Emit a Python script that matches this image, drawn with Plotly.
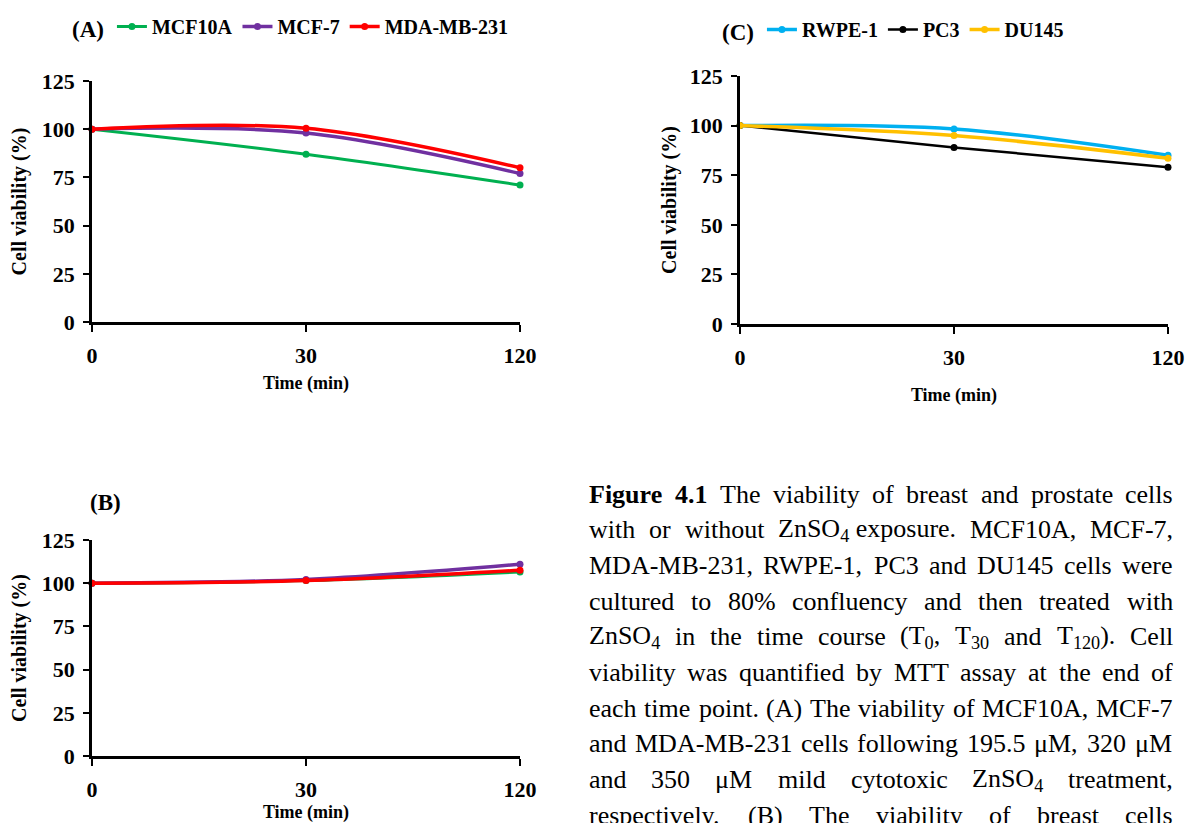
import plotly.graph_objects as go

# ---------------- data ----------------
time_labels = ["0", "30", "120"]
time_pos = [0, 1, 2]

breast_names = ["MCF10A", "MCF-7", "MDA-MB-231"]
breast_colors = ["#00B050", "#7030A0", "#FF0000"]
a_mcf10a = [100, 87, 71]
a_mcf7 = [100, 98, 77]
a_mda = [100, 100.5, 80]

b_mcf10a = [100, 101.5, 106.5]
b_mcf7 = [100, 102.2, 111]
b_mda = [100, 101.5, 107.5]

prostate_names = ["RWPE-1", "PC3", "DU145"]
prostate_colors = ["#00B0F0", "#000000", "#FFC000"]
c_rwpe = [100, 98.3, 85]
c_pc3 = [100, 89, 79]
c_du145 = [100, 95, 83.5]

yticks = [0, 25, 50, 75, 100, 125]

caption_lines = [
    [("Figure", 1), ("4.1", 1), "The", "viability", "of", "breast", "and", "prostate", "cells"],
    ["with", "or", "without", ("ZnSO|4| exposure.", 0), "MCF10A,", "MCF-7,"],
    ["MDA-MB-231,", "RWPE-1,", "PC3", "and", "DU145", "cells", "were"],
    ["cultured", "to", "80%", "confluency", "and", "then", "treated", "with"],
    ["ZnSO|4|", "in", "the", "time", "course", "(T|0|,", "T|30|", "and", "T|120|).", "Cell"],
    ["viability", "was", "quantified", "by", "MTT", "assay", "at", "the", "end", "of"],
    ["each", "time", "point.", "(A)", "The", "viability", "of", "MCF10A,", "MCF-7"],
    ["and", "MDA-MB-231", "cells", "following", "195.5", "μM,", "320", "μM"],
    ["and", "350", "μM", "mild", "cytotoxic", "ZnSO|4|", "treatment,"],
    ["respectively.", "(B)", "The", "viability", "of", "breast", "cells"],
]

W, H = 1188, 823
FONT = "Liberation Serif"

fig = go.Figure()

def add_series(xa, ya, names, colors, series, legend, show):
    for nm, col, vals in zip(names, colors, series):
        lw = 2.5 if col == "#000000" else (3 if col == "#00B050" else 3.5)
        fig.add_trace(go.Scatter(
            x=time_pos, y=vals, name=nm, mode="lines+markers",
            line=dict(color=col, width=lw, shape="spline", smoothing=1),
            marker=dict(color=col, size=7),
            xaxis=xa, yaxis=ya, legend=legend, showlegend=show,
            cliponaxis=False,
        ))

add_series("x", "y", breast_names, breast_colors, [a_mcf10a, a_mcf7, a_mda], "legend", True)
add_series("x2", "y2", prostate_names, prostate_colors, [c_rwpe, c_pc3, c_du145], "legend2", True)
add_series("x3", "y3", breast_names, breast_colors, [b_mcf10a, b_mcf7, b_mda], "legend", False)

def px_x(p):
    return p / W

def px_y(p):
    return 1 - p / H

tickfont = dict(family=FONT, size=22, color="black", weight="bold")
titlefont = dict(family=FONT, size=18, color="black", weight="bold")

def xaxis_cfg(x0, x1, anchor, standoff):
    return dict(
        domain=[px_x(x0), px_x(x1)], anchor=anchor, range=[0, 2], automargin=False,
        tickmode="array", tickvals=time_pos, ticktext=time_labels,
        showline=True, linecolor="black", linewidth=2.5, ticks="outside",
        ticklen=7, tickwidth=2, tickcolor="black", showgrid=False, zeroline=False,
        tickfont=tickfont, ticklabelstandoff=5,
        title=dict(text="Time (min)", font=titlefont, standoff=standoff),
    )

def yaxis_cfg(y0, y1, anchor, standoff):
    return dict(
        domain=[px_y(y0), px_y(y1)], anchor=anchor, range=[0, 125], automargin=False,
        tickmode="array", tickvals=yticks,
        showline=True, linecolor="black", linewidth=2.5, ticks="outside",
        ticklen=6, tickwidth=2, tickcolor="black", showgrid=False, zeroline=False,
        tickfont=tickfont, ticklabelstandoff=4,
        title=dict(text="Cell viability (%)", font=dict(family=FONT, size=20, color="black", weight="bold"), standoff=standoff),
    )

legfont = dict(family=FONT, size=20, color="black", weight="bold")

fig.update_layout(
    width=W, height=H,
    margin=dict(l=0, r=0, t=0, b=0),
    paper_bgcolor="white", plot_bgcolor="white",
    xaxis=xaxis_cfg(92, 520, "y", 10),
    yaxis=yaxis_cfg(322, 81, "x", 10),
    xaxis2=xaxis_cfg(740, 1168, "y2", 20),
    yaxis2=yaxis_cfg(324, 76, "x2", 8),
    xaxis3=xaxis_cfg(92, 520, "y3", 14),
    yaxis3=yaxis_cfg(756, 540, "x3", 10),
    legend=dict(orientation="h", x=px_x(70), y=px_y(27), xanchor="left", yanchor="middle",
                font=legfont, title=dict(text="(A)", side="left", font=dict(family=FONT, size=23, color="black", weight="bold")),
                bgcolor="rgba(0,0,0,0)", itemwidth=30, tracegroupgap=0),
    legend2=dict(orientation="h", x=px_x(720), y=px_y(30), xanchor="left", yanchor="middle",
                 font=legfont, title=dict(text="(C)", side="left", font=dict(family=FONT, size=23, color="black", weight="bold")),
                 bgcolor="rgba(0,0,0,0)", itemwidth=30),
    showlegend=True,
)

fig.add_annotation(text="<b>(B)</b>", x=px_x(88), y=px_y(502), xref="paper", yref="paper",
                   showarrow=False, font=dict(family=FONT, size=23, color="black"))

# ---------------- caption (justified) ----------------
REG = {' ': 250, '%': 833, '(': 333, ')': 333, ',': 250, '-': 333, '.': 250,
       'A': 722, 'B': 667, 'C': 667, 'D': 722, 'E': 611, 'F': 556, 'G': 722, 'H': 722,
       'I': 333, 'J': 389, 'K': 722, 'L': 611, 'M': 889, 'N': 722, 'O': 722, 'P': 556,
       'Q': 722, 'R': 667, 'S': 556, 'T': 611, 'U': 722, 'V': 722, 'W': 944, 'X': 722,
       'Y': 722, 'Z': 611, 'a': 444, 'b': 500, 'c': 444, 'd': 500, 'e': 444, 'f': 333,
       'g': 500, 'h': 500, 'i': 278, 'j': 278, 'k': 500, 'l': 278, 'm': 778, 'n': 500,
       'o': 500, 'p': 500, 'q': 500, 'r': 333, 's': 389, 't': 278, 'u': 500, 'v': 500,
       'w': 722, 'x': 500, 'y': 500, 'z': 444, 'μ': 576}
BOLD = {' ': 250, '.': 250, 'F': 611, 'i': 278, 'g': 500, 'u': 556, 'r': 444, 'e': 444}

def token_info(tok):
    bold = 0
    if isinstance(tok, tuple):
        tok, bold = tok
    table = BOLD if bold else REG
    parts = tok.split("|")
    html, units = "", 0.0
    for k, part in enumerate(parts):
        if k % 2 == 1:
            html += "<sub>" + part + "</sub>"
            units += 0.7 * sum(500 for _ in part)
        else:
            html += part
            units += sum(table.get(ch, 500) for ch in part)
    if bold:
        html = "<b>" + html + "</b>"
    return html, units

CAP_SIZE = 26
cap_left, cap_right = 588, 1172
line_y0, line_step = 494, 35.7
for li, toks in enumerate(caption_lines):
    infos = [token_info(t) for t in toks]
    widths = [u * CAP_SIZE / 1000 for _, u in infos]
    gap = (cap_right - cap_left - sum(widths)) / (len(infos) - 1)
    xcur = cap_left
    yc = line_y0 + li * line_step
    for (html, _), wpx in zip(infos, widths):
        fig.add_annotation(text=html, x=px_x(xcur), y=px_y(yc), xref="paper", yref="paper",
                           xanchor="left", yanchor="middle", showarrow=False, borderpad=0,
                           font=dict(family=FONT, size=CAP_SIZE, color="black"))
        xcur += wpx + gap

# remove the page's default 8px body margin so the figure fills the window exactly
fig.write_html("out.html", config={"displayModeBar": False},
               post_script="document.body.style.margin='0px';document.body.style.overflow='hidden';")
